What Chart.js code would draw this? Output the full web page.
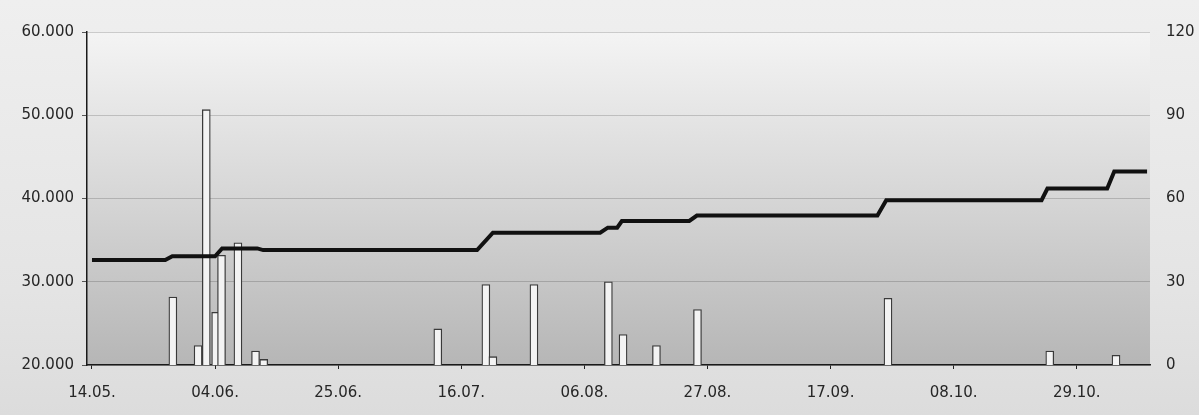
<!DOCTYPE html>
<html>
<head>
<meta charset="utf-8">
<script src="https://cdn.jsdelivr.net/npm/chart.js@4.4.1/dist/chart.umd.min.js"></script>
<style>
  html, body { margin: 0; padding: 0; }
  body {
    width: 1199px;
    height: 415px;
    background: linear-gradient(#efefef, #e4e4e4 70%, #dcdcdc);
    overflow: hidden;
  }
  #wrap { position: relative; width: 1199px; height: 415px; }
</style>
</head>
<body>
<div id="wrap"><canvas id="chart" width="1199" height="415"></canvas></div>
<script>
// x values are days counted from 14.05.
const xTickLabels = ["14.05.", "04.06.", "25.06.", "16.07.", "06.08.", "27.08.", "17.09.", "08.10.", "29.10."];

// step line (left axis)
const lineDays   = [0, 12.5, 13.7, 21, 22.2, 28.2, 29.2, 65.7, 68.4, 86.7, 88, 89.6, 90.4, 101.9, 103.2, 134, 135.5, 162, 163, 173.2, 174.4, 180];
const lineValues = [32600, 32600, 33050, 33050, 34000, 34000, 33800, 33800, 35900, 35900, 36500, 36500, 37300, 37300, 37950, 37950, 39800, 39800, 41200, 41200, 43250, 43250];

// bars (right axis)
const barDays   = [13.8, 18.1, 19.5, 21.1, 22.1, 24.9, 27.9, 29.3, 59, 67.2, 68.4, 75.4, 88.1, 90.6, 96.3, 103.3, 135.8, 163.4, 174.7];
const barValues = [24.5, 7, 92, 19, 39.5, 44, 5, 2, 13, 29, 3, 29, 30, 11, 7, 20, 24, 5, 3.5];

const fmtThousands = (v) => String(v).replace(/\B(?=(\d{3})+(?!\d))/g, ".");

const plotBackground = {
  id: "plotBackground",
  beforeDraw(chart) {
    const { ctx, chartArea: a } = chart;
    const g = ctx.createLinearGradient(0, a.top, 0, a.bottom);
    g.addColorStop(0, "#f4f4f4");
    g.addColorStop(0.45, "#d9d9d9");
    g.addColorStop(1, "#b6b6b6");
    ctx.save();
    ctx.fillStyle = g;
    ctx.fillRect(a.left, a.top, a.right - a.left, a.bottom - a.top);
    ctx.restore();
  },
};

const tickFont = { family: "DejaVu Sans", size: 15 };

new Chart(document.getElementById("chart"), {
  data: {
    datasets: [
      {
        type: "line",
        data: lineDays.map((d, i) => ({ x: d, y: lineValues[i] })),
        yAxisID: "y",
        borderColor: "#111",
        borderWidth: 4,
        pointRadius: 0,
        tension: 0,
        order: 0,
      },
      {
        type: "bar",
        data: barDays.map((d, i) => ({ x: d, y: barValues[i] })),
        yAxisID: "y1",
        backgroundColor: "#f3f3f3",
        borderColor: "#3a3a3a",
        borderWidth: 1.3,
        barThickness: 8,
        grouped: false,
        order: 1,
      },
    ],
  },
  options: {
    responsive: false,
    animation: false,
    layout: { padding: { top: 32, left: 0, right: 0, bottom: 0 } },
    plugins: { legend: { display: false }, tooltip: { enabled: false } },
    scales: {
      x: {
        type: "linear",
        offset: false,
        min: -0.85,
        max: 180.5,
        afterFit: (s) => { s.height = 50; },
        ticks: {
          stepSize: 21,
          includeBounds: false,
          autoSkip: false,
          maxRotation: 0,
          padding: 15,
          color: "#262626",
          font: tickFont,
          callback: (v) => xTickLabels[v / 21] ?? "",
        },
        grid: { offset: false, drawOnChartArea: false, tickLength: 4, tickColor: "#222" },
        border: { color: "#1a1a1a", width: 1.5 },
      },
      y: {
        position: "left",
        min: 20000,
        max: 60000,
        afterFit: (s) => { s.width = 87; },
        ticks: {
          stepSize: 10000,
          padding: 8,
          color: "#262626",
          font: tickFont,
          callback: (v) => fmtThousands(v),
        },
        grid: { color: "rgba(0,0,0,0.17)", lineWidth: 1, tickLength: 5, tickColor: "#555" },
        border: { color: "#1a1a1a", width: 1.5 },
      },
      y1: {
        position: "right",
        min: 0,
        max: 120,
        afterFit: (s) => { s.width = 49; },
        ticks: { stepSize: 30, padding: 8, color: "#262626", font: tickFont },
        grid: { display: false },
        border: { display: false },
      },
    },
  },
  plugins: [plotBackground],
});
</script>
</body>
</html>
